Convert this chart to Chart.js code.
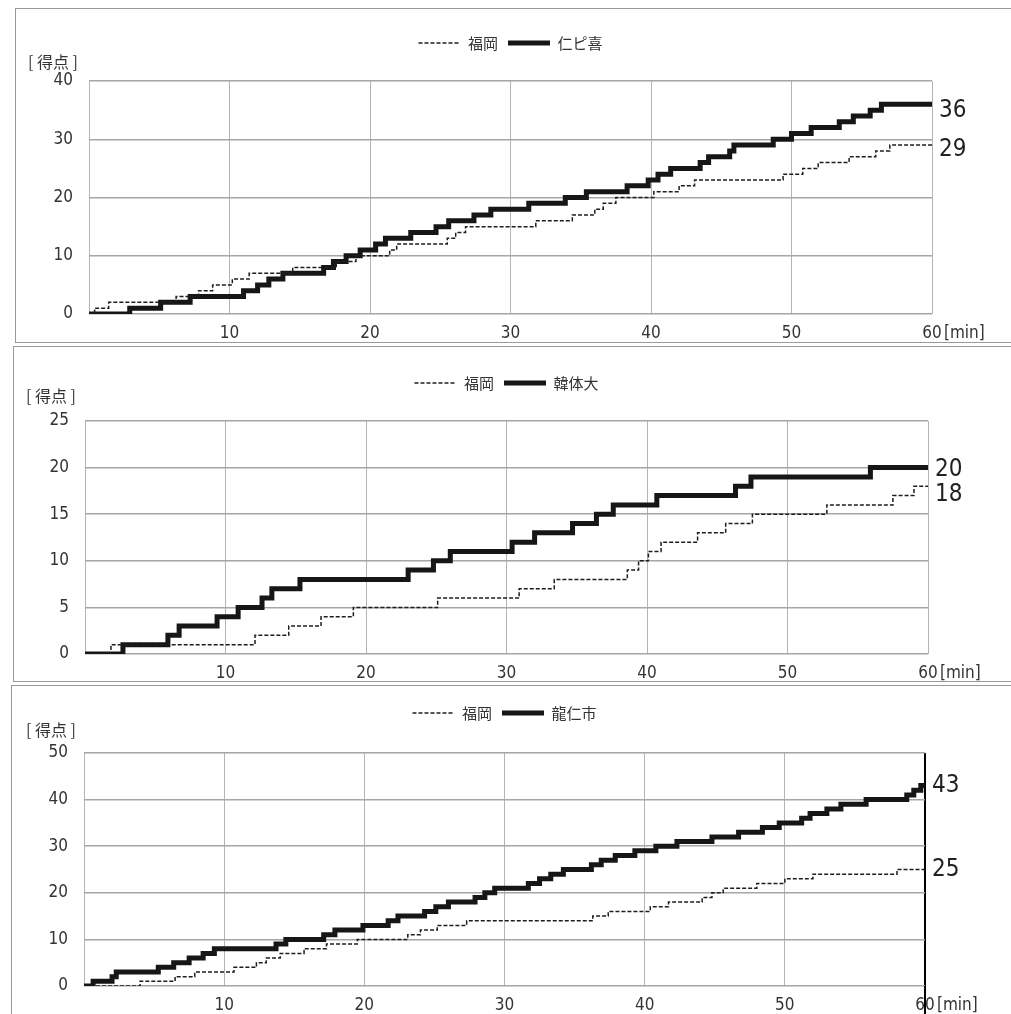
<!DOCTYPE html>
<html lang="ja">
<head>
<meta charset="utf-8">
<script src="https://cdn.jsdelivr.net/npm/chart.js@4.4.1/dist/chart.umd.min.js"></script>
<style>
  body { margin: 0; background: #fff; width: 1011px; height: 1014px; overflow: hidden; position: relative; }
  .panel { position: absolute; border: 1px solid #9a9a9a; }
  canvas { display: block; }
</style>
</head>
<body>
<div class="panel" id="p1" style="left:15px; top:8px;"><canvas id="chart1"></canvas></div>
<div class="panel" id="p2" style="left:13px; top:346px;"><canvas id="chart2"></canvas></div>
<div class="panel" id="p3" style="left:11px; top:685px;"><canvas id="chart3"></canvas></div>
<script>
// --- data (minute of each score change, cumulative score) ---
const homeName = '福岡';
const rivalNames = ['仁ピ喜', '韓体大', '龍仁市'];

const fukuokaTime1 = [0, 0.4, 1.4, 6.2, 7.8, 8.8, 10.2, 11.4, 14.5, 17.6, 19.0, 21.4, 21.9, 25.5, 26.1, 26.8, 31.8, 34.4, 36.0, 36.6, 37.5, 40.2, 42.0, 43.1, 49.4, 50.8, 51.9, 54.1, 56.0, 57.0, 60];
const fukuokaScore1 = [0, 1, 2, 3, 4, 5, 6, 7, 8, 9, 10, 11, 12, 13, 14, 15, 16, 17, 18, 19, 20, 21, 22, 23, 24, 25, 26, 27, 28, 29, 29];
const rivalTime1 = [0, 2.9, 5.1, 7.2, 11.0, 12.0, 12.8, 13.8, 16.7, 17.4, 18.3, 19.3, 20.4, 21.1, 22.9, 24.7, 25.6, 27.4, 28.6, 31.3, 33.9, 35.4, 38.3, 39.8, 40.5, 41.4, 43.5, 44.1, 45.6, 45.9, 48.7, 50.0, 51.4, 53.4, 54.4, 55.6, 56.4, 60];
const rivalScore1 = [0, 1, 2, 3, 4, 5, 6, 7, 8, 9, 10, 11, 12, 13, 14, 15, 16, 17, 18, 19, 20, 21, 22, 23, 24, 25, 26, 27, 28, 29, 30, 31, 32, 33, 34, 35, 36, 36];

const fukuokaTime2 = [0, 1.85, 12.1, 14.5, 16.8, 19.1, 25.1, 30.9, 33.4, 38.6, 39.4, 40.1, 41.0, 43.6, 45.6, 47.5, 52.8, 57.5, 59.0, 60];
const fukuokaScore2 = [0, 1, 2, 3, 4, 5, 6, 7, 8, 9, 10, 11, 12, 13, 14, 15, 16, 17, 18, 18];
const rivalTime2 = [0, 2.7, 5.9, 6.7, 9.4, 10.9, 12.6, 13.3, 15.3, 23.0, 24.8, 26.0, 30.4, 32.0, 34.7, 36.4, 37.6, 40.7, 46.3, 47.4, 55.9, 60];
const rivalScore2 = [0, 1, 2, 3, 4, 5, 6, 7, 8, 9, 10, 11, 12, 13, 14, 15, 16, 17, 18, 19, 20, 20];

const fukuokaTime3 = [0, 4.0, 6.5, 7.9, 10.7, 12.3, 13.0, 14.0, 15.7, 17.3, 19.5, 23.1, 24.0, 25.2, 27.3, 36.3, 37.4, 40.4, 41.7, 44.1, 44.8, 45.6, 48.0, 50.0, 52.0, 58.0, 60];
const fukuokaScore3 = [0, 1, 2, 3, 4, 5, 6, 7, 8, 9, 10, 11, 12, 13, 14, 15, 16, 17, 18, 19, 20, 21, 22, 23, 24, 25, 25];
const rivalTime3 = [0, 0.65, 2.0, 2.3, 5.3, 6.4, 7.5, 8.5, 9.3, 13.7, 14.4, 17.1, 17.9, 19.9, 21.7, 22.4, 24.3, 25.1, 26.0, 27.9, 28.6, 29.3, 31.7, 32.5, 33.3, 34.2, 36.2, 36.9, 37.9, 39.3, 40.8, 42.3, 44.8, 46.7, 48.4, 49.6, 51.2, 51.8, 53.0, 54.0, 55.8, 58.7, 59.2, 59.7, 60];
const rivalScore3 = [0, 1, 2, 3, 4, 5, 6, 7, 8, 9, 10, 11, 12, 13, 14, 15, 16, 17, 18, 19, 20, 21, 22, 23, 24, 25, 26, 27, 28, 29, 30, 31, 32, 33, 34, 35, 36, 37, 38, 39, 40, 41, 42, 43, 43];

const yMax = [40, 25, 50];
const yStep = [10, 5, 10];
const xMax = 60;
const xStep = 10;

// --- layout of the three panels ---
const numFont = "'Liberation Sans Narrow', 'DejaVu Sans Condensed', 'Liberation Sans', sans-serif";
const cjkFont = "'Noto Sans CJK JP', sans-serif";

const panels = [
    { canvas: 'chart1', w: 1000, h: 333, padTop: 16.5, padL: 12, padR: 84, titlePad: { top: -1, bottom: 9.3 }, yW: 61, xH: 28, blackEnd: false, labelShift: [5, 6] },
    { canvas: 'chart2', w: 1000, h: 334, padTop: 18.5, padL: 12, padR: 86, titlePad: { top: -7, bottom: 15.3 }, yW: 59, xH: 27, blackEnd: false, labelShift: [9, 2] },
    { canvas: 'chart3', w: 1000, h: 330, padTop: 9.5, padL: 14, padR: 87, titlePad: { top: -3, bottom: 13.3 }, yW: 58, xH: 30, blackEnd: true, labelShift: [0, 0] }
];

function toPoints(times, scores) {
    return times.map((t, i) => ({ x: t, y: scores[i] }));
}

// final score next to each line, plus the [min] unit
const endLabels = {
    id: 'endLabels',
    afterDatasetsDraw(chart, args, opts) {
        const { ctx, chartArea, scales } = chart;
        ctx.save();
        if (opts.blackEnd) {
            const x = scales.x.getPixelForValue(xMax);
            ctx.strokeStyle = '#000';
            ctx.lineWidth = 2;
            ctx.beginPath();
            ctx.moveTo(x, chartArea.bottom);
            ctx.lineTo(x, chart.height);
            ctx.stroke();
        }
        ctx.fillStyle = '#222';
        ctx.textBaseline = 'middle';
        ctx.textAlign = 'left';
        ctx.font = '24px ' + numFont;
        chart.data.datasets.forEach((ds, k) => {
            const last = ds.data[ds.data.length - 1];
            ctx.fillText(String(last.y), chartArea.right + 7, scales.y.getPixelForValue(last.y) + opts.shift[k]);
        });
        ctx.font = '17px ' + numFont;
        ctx.fillStyle = '#333';
        ctx.fillText('[min]', scales.x.getPixelForValue(xMax) + 12, chartArea.bottom + 20);
        ctx.restore();
    }
};

function makeChart(i, homeTime, homeScore, rivalTime, rivalScore) {
    const p = panels[i];
    const canvas = document.getElementById(p.canvas);
    canvas.width = p.w;
    canvas.height = p.h;
    canvas.style.width = p.w + 'px';
    canvas.style.height = p.h + 'px';

    return new Chart(canvas, {
        type: 'line',
        data: {
            datasets: [
                {
                    label: homeName,
                    data: toPoints(homeTime, homeScore),
                    stepped: true,
                    borderColor: '#1e1e1e',
                    borderWidth: 1.5,
                    borderDash: [4, 2],
                    pointRadius: 0,
                    fill: false
                },
                {
                    label: rivalNames[i],
                    data: toPoints(rivalTime, rivalScore),
                    stepped: true,
                    borderColor: '#161616',
                    borderWidth: 5,
                    borderJoinStyle: 'miter',
                    pointRadius: 0,
                    fill: false
                }
            ]
        },
        options: {
            responsive: false,
            animation: false,
            layout: {
                padding: { top: p.padTop, left: p.padL, right: p.padR, bottom: 0 }
            },
            plugins: {
                legend: {
                    position: 'top',
                    fullSize: false,
                    maxHeight: 28,
                    labels: {
                        usePointStyle: true,
                        pointStyleWidth: 42,
                        padding: 10,
                        color: '#333',
                        font: { family: cjkFont, size: 15 },
                        generateLabels(chart) {
                            return chart.data.datasets.map((ds, k) => ({
                                text: ds.label,
                                datasetIndex: k,
                                strokeStyle: ds.borderColor,
                                fillStyle: ds.borderColor,
                                lineWidth: ds.borderWidth,
                                lineDash: ds.borderDash || [],
                                pointStyle: 'line',
                                fontColor: '#333'
                            }));
                        }
                    }
                },
                title: {
                    display: true,
                    text: '[ 得点 ]',
                    align: 'start',
                    position: 'top',
                    weight: 500,
                    color: '#333',
                    font: { family: cjkFont, size: 16, weight: 'normal', lineHeight: 1.2 },
                    padding: p.titlePad
                },
                tooltip: { enabled: false },
                endLabels: { blackEnd: p.blackEnd, shift: p.labelShift }
            },
            scales: {
                x: {
                    type: 'linear',
                    min: 0,
                    max: xMax,
                    afterFit(scale) { scale.height = p.xH; },
                    ticks: {
                        stepSize: xStep,
                        padding: 9,
                        color: '#333',
                        font: { family: numFont, size: 17 },
                        maxRotation: 0,
                        callback: v => (v === 0 ? '' : String(v))
                    },
                    grid: {
                        drawTicks: false,
                        color: c => (p.blackEnd && c.tick && c.tick.value === xMax ? '#000' : '#b4b4b4'),
                        lineWidth: c => (p.blackEnd && c.tick && c.tick.value === xMax ? 2 : 1)
                    },
                    border: { display: false }
                },
                y: {
                    min: 0,
                    max: yMax[i],
                    afterFit(scale) { scale.width = p.yW; },
                    ticks: {
                        stepSize: yStep[i],
                        padding: 16,
                        color: '#333',
                        font: { family: numFont, size: 17 }
                    },
                    grid: {
                        drawTicks: false,
                        color: '#a6a6a6',
                        lineWidth: 1.5
                    },
                    border: { display: false }
                }
            }
        },
        plugins: [endLabels]
    });
}

makeChart(0, fukuokaTime1, fukuokaScore1, rivalTime1, rivalScore1);
makeChart(1, fukuokaTime2, fukuokaScore2, rivalTime2, rivalScore2);
makeChart(2, fukuokaTime3, fukuokaScore3, rivalTime3, rivalScore3);
</script>
</body>
</html>
